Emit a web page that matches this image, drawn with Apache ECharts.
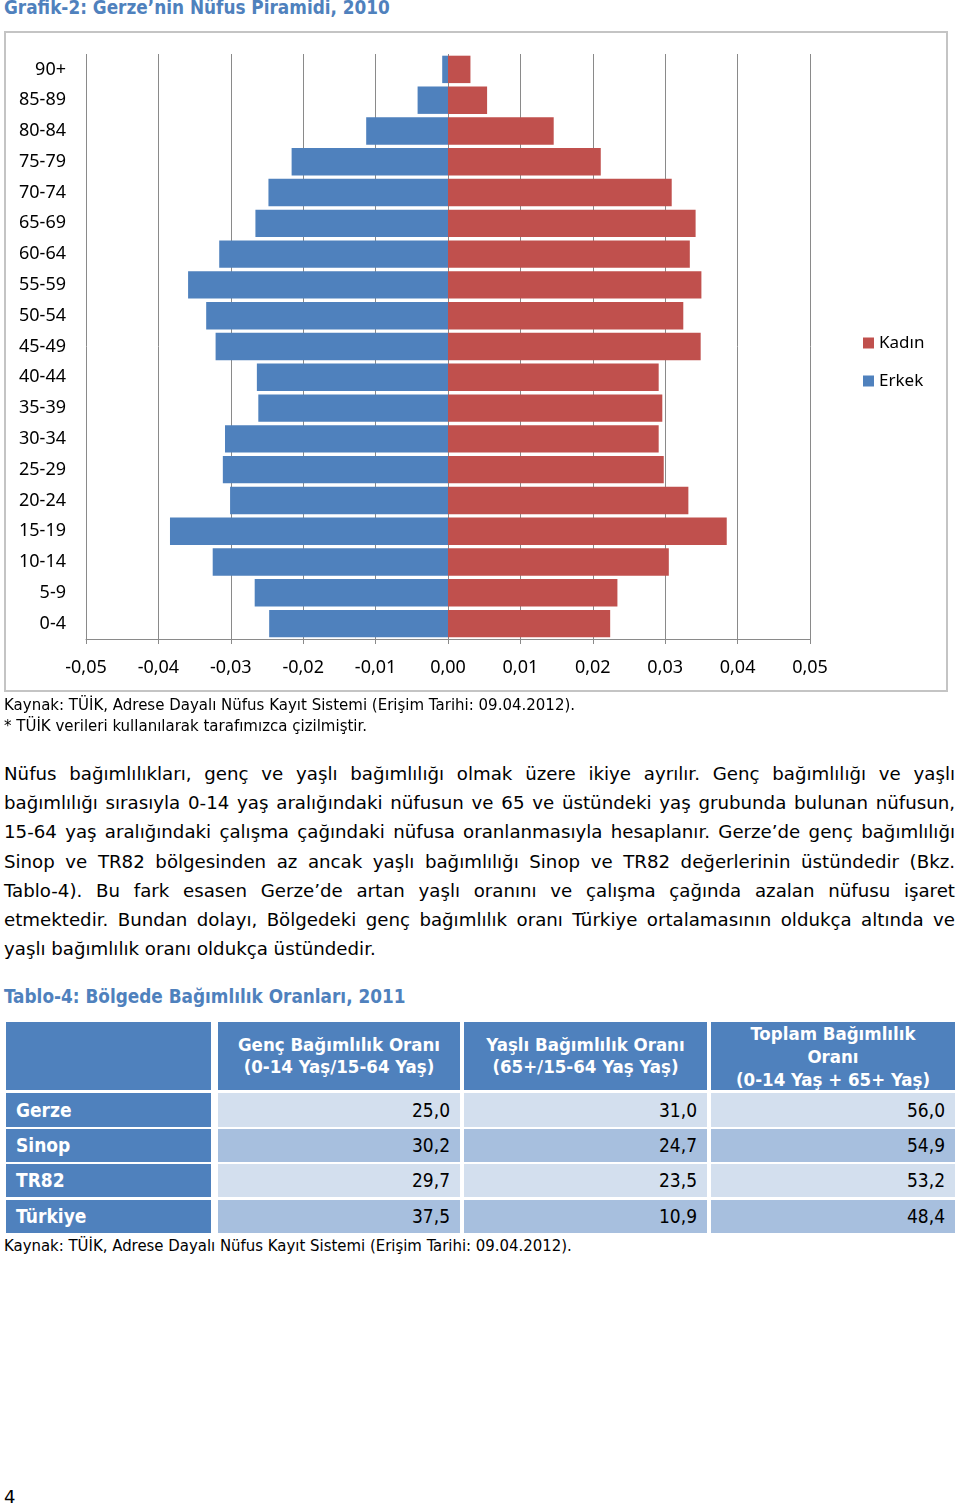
<!DOCTYPE html>
<html><head><meta charset="utf-8">
<script src="https://cdn.jsdelivr.net/npm/echarts@6/dist/echarts.min.js"></script>
<style>
html,body{margin:0;padding:0;background:#fff;}
#page{position:relative;width:960px;height:1507px;overflow:hidden;font-family:"DejaVu Sans",sans-serif;color:#000;}
.abs{position:absolute;white-space:nowrap;}
.ttl{color:#4F81BD;font-weight:bold;font-size:18.8px;line-height:20px;font-family:"DejaVu Sans Condensed","DejaVu Sans",sans-serif;}
.para div{text-align:justify;text-align-last:justify;white-space:nowrap;height:29.2px;line-height:29.2px;}
.para div.last{text-align-last:left;}
.cell{position:absolute;box-sizing:border-box;overflow:visible;font-family:"DejaVu Sans Condensed","DejaVu Sans",sans-serif;}
</style></head>
<body><div id="page">
<div class="abs ttl" style="left:4px;top:-2px;">Grafik-2: Gerze’nin Nüfus Piramidi, 2010</div>
<div class="abs" style="left:4px;top:31px;width:944px;height:661px;border:2px solid #c4c4c4;box-sizing:border-box;"></div>
<div id="chart" class="abs" style="left:0;top:0;width:960px;height:700px;"></div>
<div class="abs" style="left:4px;top:695px;font-size:15px;line-height:21px;">Kaynak: TÜİK, Adrese Dayalı Nüfus Kayıt Sistemi (Erişim Tarihi: 09.04.2012).<br>* TÜİK verileri kullanılarak tarafımızca çizilmiştir.</div>
<div id="para" class="abs para" style="left:4px;top:759px;width:951px;font-size:18.2px;"></div>
<div class="abs ttl" style="left:4px;top:987px;">Tablo-4: Bölgede Bağımlılık Oranları, 2011</div>
<div id="table"></div>
<div class="abs" style="left:4px;top:1236px;font-size:16.6px;line-height:20px;font-family:'DejaVu Sans Condensed','DejaVu Sans',sans-serif;">Kaynak: TÜİK, Adrese Dayalı Nüfus Kayıt Sistemi (Erişim Tarihi: 09.04.2012).</div>
<div class="abs" style="left:4px;top:1487px;font-size:18px;line-height:20px;">4</div>
</div>
<script>
// ---- chart data ----
var ageGroups = ['0-4','5-9','10-14','15-19','20-24','25-29','30-34','35-39','40-44','45-49','50-54','55-59','60-64','65-69','70-74','75-79','80-84','85-89','90+'];
var kadin = [0.0224,0.0234,0.0305,0.0385,0.0332,0.0298,0.0291,0.0296,0.0291,0.0349,0.0325,0.0350,0.0334,0.0342,0.0309,0.0211,0.0146,0.0054,0.0031];
var erkek = [-0.0247,-0.0267,-0.0325,-0.0384,-0.0301,-0.0311,-0.0308,-0.0262,-0.0264,-0.0321,-0.0334,-0.0359,-0.0316,-0.0266,-0.0248,-0.0216,-0.0113,-0.0042,-0.0008];
var seriesNames = ['Kadın','Erkek'];

// ---- table data ----
var tableHeaders = ['', 'Genç Bağımlılık Oranı<br>(0-14 Yaş/15-64 Yaş)', 'Yaşlı Bağımlılık Oranı<br>(65+/15-64 Yaş Yaş)', 'Toplam Bağımlılık<br>Oranı<br>(0-14 Yaş + 65+ Yaş)'];
var regions = ['Gerze','Sinop','TR82','Türkiye'];
var gencOran = ['25,0','30,2','29,7','37,5'];
var yasliOran = ['31,0','24,7','23,5','10,9'];
var toplamOran = ['56,0','54,9','53,2','48,4'];

var paraLines = [
 'Nüfus bağımlılıkları, genç ve yaşlı bağımlılığı olmak üzere ikiye ayrılır. Genç bağımlılığı ve yaşlı',
 'bağımlılığı sırasıyla 0-14 yaş aralığındaki nüfusun ve 65 ve üstündeki yaş grubunda bulunan nüfusun,',
 '15-64 yaş aralığındaki çalışma çağındaki nüfusa oranlanmasıyla hesaplanır. Gerze’de genç bağımlılığı',
 'Sinop ve TR82 bölgesinden az ancak yaşlı bağımlılığı Sinop ve TR82 değerlerinin üstündedir (Bkz.',
 'Tablo-4). Bu fark esasen Gerze’de artan yaşlı oranını ve çalışma çağında azalan nüfusu işaret',
 'etmektedir. Bundan dolayı, Bölgedeki genç bağımlılık oranı Türkiye ortalamasının oldukça altında ve',
 'yaşlı bağımlılık oranı oldukça üstündedir.'
];

// paragraph
var p = document.getElementById('para');
paraLines.forEach(function(t,i){
  var d=document.createElement('div'); d.textContent=t;
  if(i===paraLines.length-1) d.className='last';
  p.appendChild(d);
});

// table
var colX=[[6,211],[218,460],[464,707],[711,955]];
var rowY=[[1022,1090],[1093,1127],[1129,1162],[1164,1197],[1200,1233]];
var tb=document.getElementById('table');
function cell(c,r,html,style){
  var d=document.createElement('div'); d.className='cell';
  d.style.left=colX[c][0]+'px'; d.style.width=(colX[c][1]-colX[c][0])+'px';
  d.style.top=rowY[r][0]+'px'; d.style.height=(rowY[r][1]-rowY[r][0])+'px';
  d.innerHTML=html; for(var k in style) d.style[k]=style[k];
  tb.appendChild(d);
}
var blue='#4F81BD', light='#D3DFEE', mid='#A7BFDE';
tableHeaders.forEach(function(h,c){
  var lh = (c===3)?'23px':'22px';
  cell(c,0,'<div style="position:absolute;left:0;right:0;top:'+(c===3?'0px':'12px')+';text-align:center;">'+h+'</div>',
    {background:blue,color:'#fff',fontWeight:'bold',fontSize:'18.5px',lineHeight:lh});
});
var cols=[gencOran,yasliOran,toplamOran];
regions.forEach(function(rg,i){
  var bg=(i%2===0)?light:mid;
  cell(0,i+1,rg,{background:blue,color:'#fff',fontWeight:'bold',fontSize:'19px',lineHeight:(rowY[i+1][1]-rowY[i+1][0])+'px',paddingLeft:'10px'});
  cols.forEach(function(arr,j){
    cell(j+1,i+1,arr[i],{background:bg,color:'#000',fontSize:'19px',textAlign:'right',paddingRight:'10px',lineHeight:(rowY[i+1][1]-rowY[i+1][0])+'px'});
  });
});

// chart
var chart=echarts.init(document.getElementById('chart'),null,{renderer:'canvas'});
var fnt='"Noto Sans", sans-serif';
var grid='#8a8a8a';
chart.setOption({
  animation:false,
  textStyle:{fontFamily:fnt},
  grid:{left:86,right:150,top:54,bottom:61,containLabel:false},
  legend:{data:seriesNames,orient:'vertical',left:858,top:328,icon:'rect',itemWidth:11,itemHeight:11,itemGap:18,
    textStyle:{fontFamily:fnt,fontSize:17,color:'#000',lineHeight:20}},
  xAxis:{type:'value',min:-0.05,max:0.05,interval:0.01,
    axisLine:{show:true,onZero:false,lineStyle:{color:grid}},
    axisTick:{show:true,length:5,lineStyle:{color:grid}},
    splitLine:{show:true,lineStyle:{color:grid,width:1}},
    axisLabel:{fontFamily:fnt,fontSize:18,color:'#000',margin:20,
      formatter:function(v){ if(Math.abs(v)<1e-9) return '0,00'; return v.toFixed(2).replace('.',','); }}},
  yAxis:{type:'category',data:ageGroups,position:'left',axisLine:{show:false,onZero:false},axisTick:{show:false},
     axisLabel:{fontFamily:fnt,fontSize:18,color:'#000',margin:20}},
  series:[
    {name:'Erkek',type:'bar',data:erkek,itemStyle:{color:'#4F81BD'},barGap:'-100%',barCategoryGap:'11%'},
    {name:'Kadın',type:'bar',data:kadin,itemStyle:{color:'#C0504D'},barGap:'-100%',barCategoryGap:'11%'}
  ]
});
</script>
</body></html>
